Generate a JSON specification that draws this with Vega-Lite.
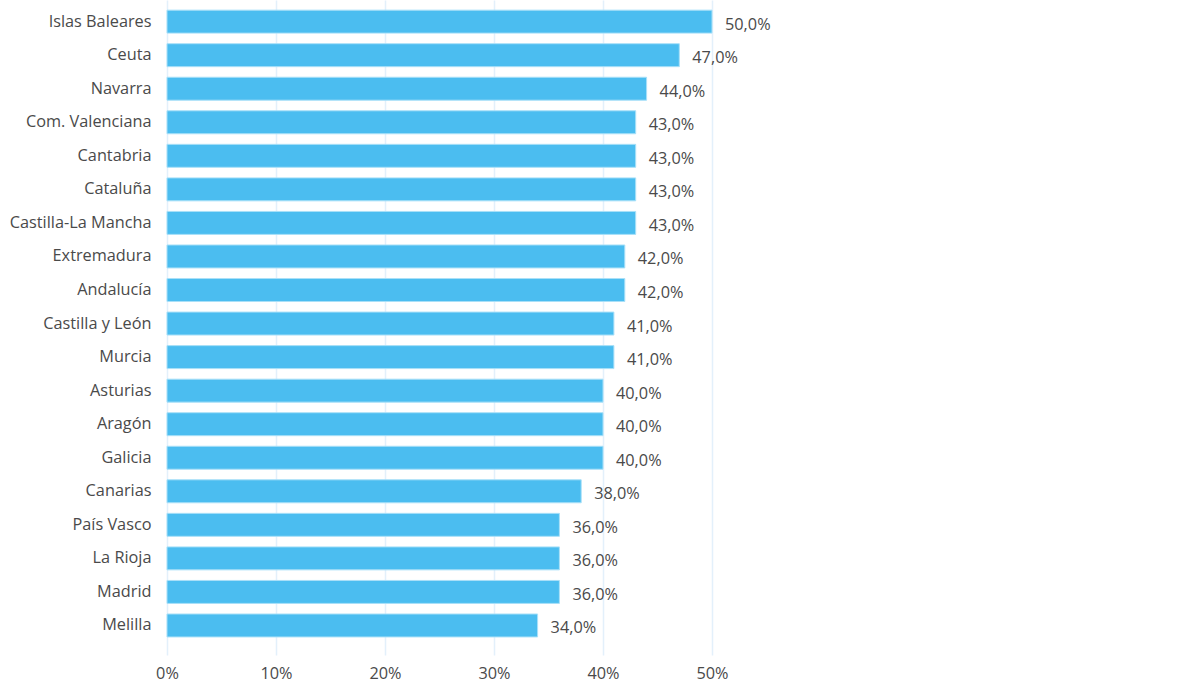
{
  "$schema": "https://vega.github.io/schema/vega-lite/v6.json",
  "autosize": {"type": "none"},
  "padding": {"left": 167, "top": 0, "right": 468, "bottom": 35},
  "width": 545,
  "height": 655,
  "background": "white",
  "config": {
    "locale": {"number": {"decimal": ",", "thousands": ".", "grouping": [3], "currency": ["", " €"]}},
    "view": {"stroke": null},
    "font": "Open Sans"
  },
  "data": {"values": [
    {"region": "Islas Baleares", "value": 0.50},
    {"region": "Ceuta", "value": 0.47},
    {"region": "Navarra", "value": 0.44},
    {"region": "Com. Valenciana", "value": 0.43},
    {"region": "Cantabria", "value": 0.43},
    {"region": "Cataluña", "value": 0.43},
    {"region": "Castilla-La Mancha", "value": 0.43},
    {"region": "Extremadura", "value": 0.42},
    {"region": "Andalucía", "value": 0.42},
    {"region": "Castilla y León", "value": 0.41},
    {"region": "Murcia", "value": 0.41},
    {"region": "Asturias", "value": 0.40},
    {"region": "Aragón", "value": 0.40},
    {"region": "Galicia", "value": 0.40},
    {"region": "Canarias", "value": 0.38},
    {"region": "País Vasco", "value": 0.36},
    {"region": "La Rioja", "value": 0.36},
    {"region": "Madrid", "value": 0.36},
    {"region": "Melilla", "value": 0.34}
  ]},
  "encoding": {
    "y": {
      "field": "region", "type": "nominal", "sort": null,
      "scale": {"paddingInner": 0.315, "paddingOuter": 0.42, "align": 0.36},
      "axis": {"title": null, "domain": false, "ticks": false, "labelPadding": 16, "labelFontSize": 16.3, "labelColor": "#4a4a4a", "labelFont": "Open Sans"}
    },
    "x": {
      "field": "value", "type": "quantitative",
      "scale": {"domain": [0, 0.5], "nice": false},
      "axis": {"title": null, "format": ".0%", "values": [0, 0.1, 0.2, 0.3, 0.4, 0.5], "domain": false, "ticks": false, "labelFlush": false, "labelPadding": 10, "labelFontSize": 16.3, "labelColor": "#4a4a4a", "gridColor": "#e3f0fb", "gridWidth": 1.5, "labelFont": "Open Sans"}
    }
  },
  "layer": [
    {"mark": {"type": "bar", "color": "#4bbdf0", "stroke": "#a9e0f8", "strokeWidth": 1}},
    {"mark": {"type": "text", "align": "left", "dx": 13, "dy": 3, "fontSize": 16.3, "color": "#4a4a4a", "font": "Open Sans"},
     "encoding": {"text": {"field": "value", "type": "quantitative", "format": ".1%"}}}
  ]
}
